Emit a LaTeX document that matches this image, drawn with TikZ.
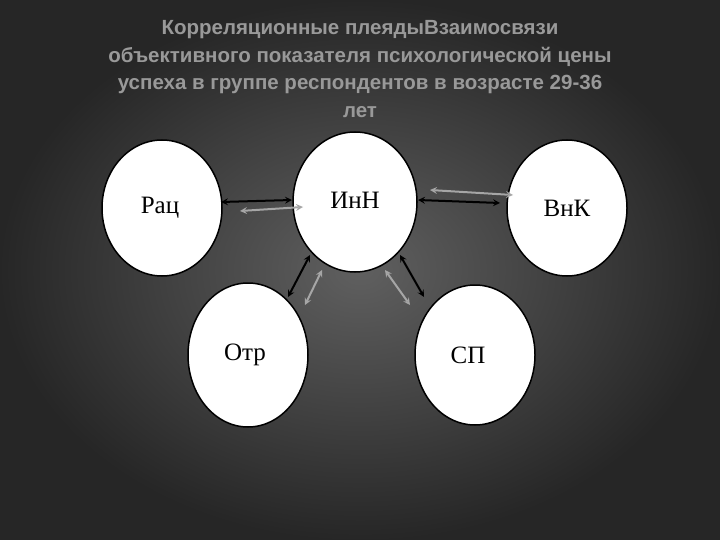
\documentclass[tikz,border=0pt]{standalone}
\usepackage{fontspec}
\setmainfont{Liberation Serif}
\newfontfamily\tsans{Liberation Sans}
\begin{document}
\begin{tikzpicture}[x=1pt,y=-1pt,
  circ/.style={draw=black,line width=1.5pt,fill=white},
  lbl/.style={font=\fontsize{25}{28}\selectfont},
  arr/.style={<->,>=stealth,line width=2pt,black},
  sh/.style={<->,>=stealth,line width=2pt,gray!70}]
\shade[inner color=gray!75!black,outer color=black!85] (0,0) rectangle (720,540);
\useasboundingbox (0,0) rectangle (720,540);
\node[align=center,text=gray!80,font=\tsans\bfseries\fontsize{20.5}{27.5}\selectfont] (title) at (360,69)
 {Корреляционные плеядыВзаимосвязи\\объективного показателя психологической цены\\успеха в группе респондентов в возрасте 29-36\\лет};
\draw[circ] (162,208) ellipse [x radius=60,y radius=68];
\draw[circ] (355,202) ellipse [x radius=62,y radius=70];
\draw[circ] (567,208) ellipse [x radius=60,y radius=68];
\draw[circ] (248,355) ellipse [x radius=60,y radius=72];
\draw[circ] (475,355) ellipse [x radius=60,y radius=70];
\node[lbl] (rac) at (160,208) {Рац};
\node[lbl] (inn) at (355,200) {ИнН};
\node[lbl] (vnk) at (567,208) {ВнК};
\node[lbl] (otr) at (245,355) {Отр};
\node[lbl] (sp) at (468,355) {СП};
\coordinate (a1) at (221,202); \coordinate (a2) at (292,200);
\coordinate (b1) at (418,200); \coordinate (b2) at (500,203);
\coordinate (c1) at (310,255); \coordinate (c2) at (288,297);
\coordinate (d1) at (400,255); \coordinate (d2) at (424,297);
\coordinate (e1) at (240,211); \coordinate (e2) at (303,207);
\coordinate (f1) at (430,190); \coordinate (f2) at (513,195);
\coordinate (g1) at (322,270); \coordinate (g2) at (305,305);
\coordinate (h1) at (385,270); \coordinate (h2) at (410,305);
\draw[sh] (e1) -- (e2); \draw[sh] (f1) -- (f2);
\draw[sh] (g1) -- (g2); \draw[sh] (h1) -- (h2);
\draw[arr] (a1) -- (a2); \draw[arr] (b1) -- (b2);
\draw[arr] (c1) -- (c2); \draw[arr] (d1) -- (d2);
\end{tikzpicture}
\end{document}
